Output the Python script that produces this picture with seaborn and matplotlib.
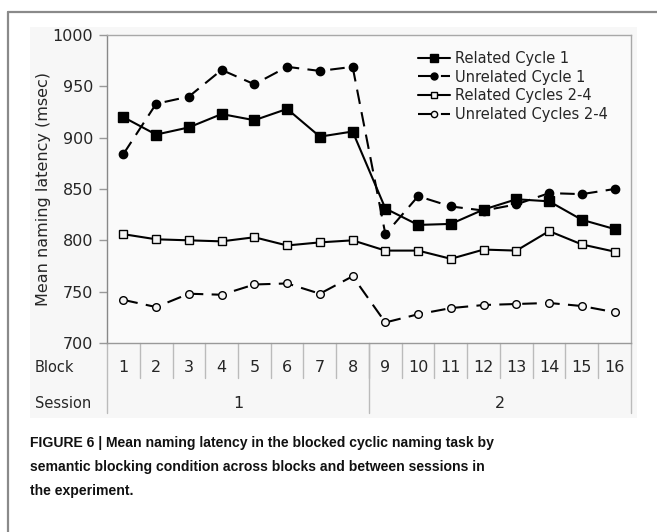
import matplotlib
matplotlib.use("Agg")
import matplotlib.pyplot as plt
from matplotlib import font_manager
from matplotlib.lines import Line2D
from matplotlib.patches import Rectangle
import seaborn as sns
import pandas as pd

# Data
blocks = list(range(1, 17))
sessions = ["1", "2"]
related_c1 = [920, 903, 910, 923, 917, 928, 901, 906, 831, 815, 816, 830, 840, 838, 820, 811]
unrelated_c1 = [884, 933, 940, 966, 952, 969, 965, 969, 806, 843, 833, 829, 835, 846, 845, 850]
related_c24 = [806, 801, 800, 799, 803, 795, 798, 800, 790, 790, 782, 791, 790, 809, 796, 789]
unrelated_c24 = [742, 735, 748, 747, 757, 758, 748, 765, 720, 728, 734, 737, 738, 739, 736, 730]
series_names = ["Related Cycle 1", "Unrelated Cycle 1", "Related Cycles 2-4", "Unrelated Cycles 2-4"]
y_ticks = [700, 750, 800, 850, 900, 950, 1000]
caption = ("FIGURE 6 | Mean naming latency in the blocked cyclic naming task by\n"
           "semantic blocking condition across blocks and between sessions in\n"
           "the experiment.")

df = pd.DataFrame({
    "block": blocks * 4,
    "latency": related_c1 + unrelated_c1 + related_c24 + unrelated_c24,
    "series": [s for s in series_names for _ in blocks],
})

sns.set_style("white")
plt.rcParams["font.family"] = ["DejaVu Sans"]

# caption font: narrow bold if available
names = {f.name for f in font_manager.fontManager.ttflist}
cap_font = "Liberation Sans Narrow" if "Liberation Sans Narrow" in names else "Liberation Sans"
cap_size = 12.2 if cap_font == "Liberation Sans Narrow" else 10.1

W, H = 657, 532
fig = plt.figure(figsize=(W / 100, H / 100), dpi=100)

# outer panel frame and chart background
fig.add_artist(Line2D([8 / W, 1], [1 - 12 / H] * 2, color="#8a8a8a", lw=1.6))
fig.add_artist(Line2D([8 / W] * 2, [0, 1 - 12 / H], color="#8a8a8a", lw=1.6))
fig.patches.append(Rectangle((30 / W, 1 - 418 / H), 607 / W, 391 / H,
                             transform=fig.transFigure, facecolor="#f7f7f7",
                             edgecolor="none", zorder=-5))

ax = fig.add_axes([107 / W, 1 - 343 / H, 524 / W, 308 / H])
ax.set_zorder(2)
ax.set_facecolor("#fafafa")

dash = (0, (7, 4))
styles = {
    "Related Cycle 1": dict(marker="s", ms=7, mfc="black", ls="-"),
    "Unrelated Cycle 1": dict(marker="o", ms=6, mfc="black", ls=dash),
    "Related Cycles 2-4": dict(marker="s", ms=6, mfc="#f4f4f4", ls="-"),
    "Unrelated Cycles 2-4": dict(marker="o", ms=5.5, mfc="#f4f4f4", ls=dash),
}
handles = []
for name in series_names:
    st = styles[name]
    sub = df[df["series"] == name]
    sns.lineplot(data=sub, x="block", y="latency", ax=ax, color="black", lw=1.5,
                 marker=st["marker"], markersize=st["ms"], markerfacecolor=st["mfc"],
                 markeredgecolor="black", markeredgewidth=1.0, linestyle=st["ls"],
                 label=name, legend=False)
    handles.append(Line2D([], [], color="black", lw=1.5, marker=st["marker"],
                          markersize=st["ms"] - 1, markerfacecolor=st["mfc"],
                          markeredgecolor="black", linestyle=st["ls"]))

ax.legend(handles, series_names, loc="upper right", bbox_to_anchor=(0.975, 0.982),
          frameon=False, fontsize=10.5, handlelength=2.2, handletextpad=0.3,
          labelspacing=0.26, borderaxespad=0.3)

ax.set_xlim(0.5, 16.5)
ax.set_ylim(700, 1000)
ax.set_yticks(y_ticks)
ax.set_yticklabels([str(t) for t in y_ticks], fontsize=11.5)
ax.set_xticks([])
ax.set_xlabel("")
ax.set_ylabel("Mean naming latency (msec)", fontsize=11.5, labelpad=1)
ax.tick_params(axis="y", length=6, width=1, color="#999999", left=True, pad=4)
for side, sp in ax.spines.items():
    sp.set_color("#a8a8a8")
    sp.set_linewidth(1.0)
ax.spines["left"].set_color("#888888")
ax.spines["bottom"].set_color("#999999")

# block / session table below axis
xt = ax.get_xaxis_transform()
row1 = -35 / 308
row2 = -70 / 308
for b in blocks:
    ax.text(b, -25 / 308, str(b), transform=xt, ha="center", va="center", fontsize=11.5)
for xs in [b + 0.5 for b in blocks[:-1]]:
    ax.plot([xs, xs], [0, row1], transform=xt, color="#bbbbbb", lw=1, clip_on=False)
for xs in [0.5, 8.5, 16.5]:
    ax.plot([xs, xs], [0, row2], transform=xt, color="#bbbbbb", lw=1, clip_on=False)
ax.text(4.5, -60 / 308, sessions[0], transform=xt, ha="center", va="center", fontsize=11.5)
ax.text(12.5, -60 / 308, sessions[1], transform=xt, ha="center", va="center", fontsize=11.5)
fig.text(35 / W, 1 - 368 / H, "Block", ha="left", va="center", fontsize=10.5)
fig.text(35 / W, 1 - 403 / H, "Session", ha="left", va="center", fontsize=10.5)

fig.text(30 / W, 1 - 436 / H, caption, ha="left", va="top", fontsize=cap_size,
         fontweight="bold", family=[cap_font, "DejaVu Sans"], linespacing=1.9,
         color="#111111")

fig.savefig("out.png", dpi=100)
